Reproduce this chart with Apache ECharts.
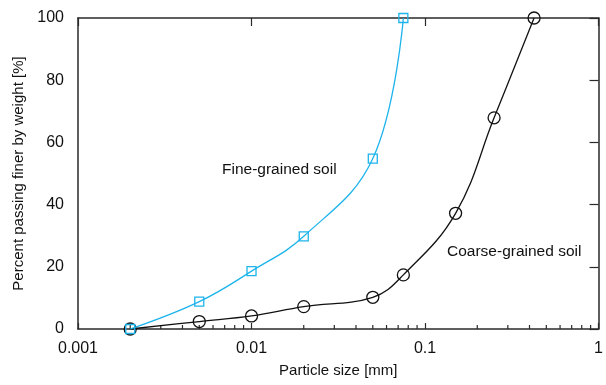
<!DOCTYPE html>
<html>
<head>
<meta charset="utf-8">
<script src="https://cdn.jsdelivr.net/npm/echarts@6/dist/echarts.min.js"></script>
<style>html,body{margin:0;padding:0;background:#fff}#c{width:606px;height:385px}</style>
</head>
<body>
<div id="c"></div>
<script>
var fineSize = [0.002, 0.005, 0.01, 0.02, 0.05, 0.075];
var finePass = [0, 8.8, 18.6, 29.8, 54.8, 100];
var coarseSize = [0.002, 0.005, 0.01, 0.02, 0.05, 0.075, 0.15, 0.25, 0.425];
var coarsePass = [0, 2.4, 4.2, 7.2, 10.2, 17.4, 37.2, 67.9, 100];
var xTickLabels = ['0.001', '0.01', '0.1', '1'];
var yTicks = [0, 20, 40, 60, 80, 100];
var minorTicks = [0.002,0.003,0.004,0.005,0.006,0.007,0.008,0.009,
                  0.02,0.03,0.04,0.05,0.06,0.07,0.08,0.09,
                  0.2,0.3,0.4,0.5,0.6,0.7,0.8,0.9];

var FONT = 'Liberation Sans, Arial, sans-serif';
var AX = '#2a2a2a';
var CYAN = '#1db4ec';

function pairs(xs, ys){ return xs.map(function(x,i){ return [x, ys[i]]; }); }

var chart = echarts.init(document.getElementById('c'), null, {renderer:'canvas'});
chart.setOption({
  animation: false,
  backgroundColor: '#fff',
  grid: {left: 78, right: 5, top: 18, bottom: 56, show: false},
  xAxis: [{
    type: 'log', logBase: 10, min: 0.001, max: 1, position: 'bottom',
    name: 'Particle size [mm]', nameLocation: 'middle', nameGap: 34,
    nameTextStyle: {fontFamily: FONT, fontSize: 15, color: '#111'},
    axisLine: {show: true, lineStyle: {color: AX, width: 1.5}},
    axisTick: {show: true, inside: true, length: 6, lineStyle: {color: AX, width: 1.2}},
    axisLabel: {fontFamily: FONT, fontSize: 16, color: '#111', margin: 12,
      formatter: function(v){ var i = Math.round(Math.log10(v) + 3); return xTickLabels[i] || ''; }},
    splitLine: {show: false}, minorTick: {show: false}
  }, {
    type: 'log', logBase: 10, min: 0.001, max: 1, position: 'top',
    axisLine: {show: true, onZero: false, lineStyle: {color: AX, width: 1.5}},
    axisTick: {show: true, inside: true, length: 8, lineStyle: {color: AX, width: 1.2}},
    axisLabel: {show: false}, splitLine: {show: false}
  }],
  yAxis: [{
    type: 'value', min: 0, max: 100, interval: 20, position: 'left',
    name: 'Percent passing finer by weight [%]', nameLocation: 'middle', nameGap: 52,
    nameTextStyle: {fontFamily: FONT, fontSize: 15, color: '#111'},
    axisLine: {show: true, lineStyle: {color: AX, width: 1.5}},
    axisTick: {show: false},
    axisLabel: {fontFamily: FONT, fontSize: 16, color: '#111', margin: 14},
    splitLine: {show: false}
  }, {
    type: 'value', min: 0, max: 100, interval: 20, position: 'right',
    axisLine: {show: true, onZero: false, lineStyle: {color: AX, width: 1.5}},
    axisTick: {show: true, inside: true, length: 9, lineStyle: {color: AX, width: 1.2}},
    axisLabel: {show: false}, splitLine: {show: false}
  }],
  series: [{
    type: 'custom', xAxisIndex: 0, yAxisIndex: 0, silent: true, clip: false,
    data: minorTicks.map(function(v){ return [v, 0]; }),
    renderItem: function(params, api){
      var p = api.coord([api.value(0), 0]);
      return {type: 'line', shape: {x1: p[0], y1: p[1], x2: p[0], y2: p[1] - 4},
              style: {stroke: AX, lineWidth: 1.2}};
    }
  }, {
    name: 'Coarse-grained soil', type: 'line', xAxisIndex: 0, yAxisIndex: 0,
    data: pairs(coarseSize, coarsePass), smooth: 0.4,
    symbol: 'circle', symbolSize: 12, clip: false,
    lineStyle: {color: '#111', width: 1.3},
    itemStyle: {color: 'rgba(0,0,0,0)', borderColor: '#111', borderWidth: 1.3},
    z: 3
  }, {
    name: 'Fine-grained soil', type: 'line', xAxisIndex: 0, yAxisIndex: 0,
    data: pairs(fineSize, finePass), smooth: 0.4,
    symbol: 'rect', symbolSize: 9, clip: false,
    lineStyle: {color: CYAN, width: 1.3},
    itemStyle: {color: 'rgba(0,0,0,0)', borderColor: CYAN, borderWidth: 1.3},
    z: 4
  }],
  graphic: [{
    type: 'text', left: 222, top: 162,
    style: {text: 'Fine-grained soil', font: '15.5px ' + FONT, fill: '#111'}
  }, {
    type: 'text', left: 447, top: 244,
    style: {text: 'Coarse-grained soil', font: '15.5px ' + FONT, fill: '#111'}
  }]
});
</script>
</body>
</html>
